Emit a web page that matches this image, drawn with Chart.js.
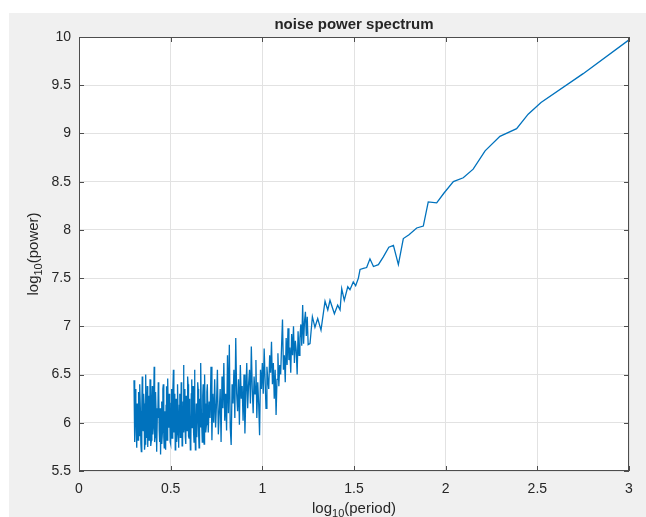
<!DOCTYPE html>
<html>
<head>
<meta charset="utf-8">
<script src="https://cdn.jsdelivr.net/npm/chart.js@4.4.0/dist/chart.umd.min.js"></script>
<style>
  html, body { margin: 0; padding: 0; background: #fff; }
  #frame { position: absolute; left: 9px; top: 13px; width: 637px; height: 504px; background: #f0f0f0; }
  #wrap { position: absolute; left: 0; top: 0; width: 646px; height: 517px; }
</style>
</head>
<body>
<div id="frame"></div>
<div id="wrap"><canvas id="spec" width="646" height="517"></canvas></div>
<script>
// short periods: dense, noisy part of the spectrum
var logPeriodLow = [
  0.3000,0.3025,0.3050,0.3075,0.3100,0.3125,0.3150,0.3175,0.3200,0.3225,
  0.3250,0.3275,0.3300,0.3325,0.3350,0.3375,0.3400,0.3425,0.3450,0.3475,
  0.3500,0.3525,0.3550,0.3575,0.3600,0.3625,0.3650,0.3675,0.3700,0.3725,
  0.3750,0.3775,0.3800,0.3825,0.3850,0.3875,0.3900,0.3925,0.3950,0.3975,
  0.4000,0.4025,0.4050,0.4075,0.4100,0.4125,0.4150,0.4175,0.4200,0.4225,
  0.4250,0.4275,0.4300,0.4325,0.4350,0.4375,0.4400,0.4425,0.4450,0.4475,
  0.4500,0.4525,0.4550,0.4575,0.4600,0.4625,0.4650,0.4675,0.4700,0.4725,
  0.4750,0.4775,0.4800,0.4825,0.4850,0.4875,0.4900,0.4925,0.4950,0.4975,
  0.5000,0.5025,0.5050,0.5075,0.5100,0.5125,0.5150,0.5175,0.5200,0.5225,
  0.5250,0.5275,0.5300,0.5325,0.5350,0.5375,0.5400,0.5425,0.5450,0.5475,
  0.5500,0.5525,0.5550,0.5575,0.5600,0.5625,0.5650,0.5675,0.5700,0.5725,
  0.5750,0.5775,0.5800,0.5825,0.5850,0.5875,0.5900,0.5925,0.5950,0.5975,
  0.6000,0.6025,0.6050,0.6075,0.6100,0.6125,0.6150,0.6175,0.6200,0.6225,
  0.6250,0.6275,0.6300,0.6325,0.6350,0.6375,0.6400,0.6425,0.6450,0.6475,
  0.6500,0.6525,0.6550,0.6575,0.6600,0.6625,0.6650,0.6675,0.6700,0.6725,
  0.6750,0.6775,0.6800,0.6825,0.6850,0.6875,0.6900,0.6925,0.6950,0.6975,
  0.700,0.705,0.710,0.715,0.720,0.725,0.730,0.735,0.740,0.745,
  0.750,0.755,0.760,0.765,0.770,0.775,0.780,0.785,0.790,0.795,
  0.800,0.805,0.810,0.815,0.820,0.825,0.830,0.835,0.840,0.845,
  0.850,0.855,0.860,0.865,0.870,0.875,0.880,0.885,0.890,0.895,
  0.900,0.905,0.910,0.915,0.920,0.925,0.930,0.935,0.940,0.945,
  0.950,0.955,0.960,0.965,0.970,0.975,0.980,0.985,0.990,0.995,
  1.000,1.005,1.010,1.015,1.020,1.025,1.030,1.035,1.040,1.045,
  1.050,1.055,1.060,1.065,1.070,1.075,1.080,1.085,1.090,1.095,
  1.100,1.105,1.110,1.115,1.120,1.125,1.130,1.135,1.140,1.145,
  1.150,1.155,1.160,1.165,1.170,1.175,1.180,1.185,1.190,1.195,
  1.200,1.205,1.210,1.215,1.220,1.225,1.230,1.235,1.240,1.245,1.250
];
var logPowerLow = [
  6.44,6.05,5.80,6.35,6.25,5.90,5.74,6.20,6.05,5.82,
  6.32,6.02,5.86,6.40,6.12,5.78,5.70,6.15,6.48,5.95,
  5.92,6.30,6.20,5.72,5.78,6.12,6.50,5.85,6.02,6.38,
  5.75,6.08,6.28,5.82,5.90,6.45,6.10,5.76,5.82,6.22,
  6.38,5.88,5.95,6.25,6.58,5.80,5.85,6.32,6.15,5.70,
  5.72,6.10,6.05,6.42,6.30,5.92,5.80,6.15,5.67,6.05,
  6.22,5.78,5.90,6.35,6.40,5.85,5.74,6.12,6.00,5.72,
  6.18,6.38,5.82,5.95,6.46,6.05,5.95,6.30,6.12,5.80,
  5.78,6.20,6.35,5.84,5.92,6.28,6.55,5.90,6.02,6.30,
  5.72,6.05,6.25,5.80,5.88,6.40,6.10,5.74,5.76,6.18,
  6.30,5.85,5.95,6.42,6.15,5.76,5.80,6.22,6.60,5.90,
  6.00,6.35,5.85,5.78,6.28,6.05,5.92,6.48,6.40,5.86,
  5.84,6.25,6.12,5.72,5.78,6.30,6.45,5.95,6.05,6.38,
  5.90,5.80,6.55,6.10,5.72,6.02,6.20,5.85,6.02,6.42,
  6.35,5.88,5.74,6.25,6.15,5.95,6.62,6.10,5.95,5.80,
  6.28,6.40,5.85,5.78,6.50,6.20,6.08,5.90,5.98,6.32,
  6.40,5.90,6.22,6.05,6.58,5.82,6.30,6.00,6.45,5.95,
  6.20,6.55,5.88,6.10,6.35,5.80,6.48,6.15,6.62,6.02,
  6.30,5.92,6.70,6.10,6.81,5.95,5.77,6.40,6.20,6.55,
  6.05,6.88,6.30,6.12,6.45,5.98,6.60,6.25,6.38,6.02,
  6.50,5.89,6.28,6.62,6.15,6.40,6.55,6.20,6.79,6.35,
  6.10,6.48,6.30,6.65,6.05,6.42,6.20,5.87,6.55,6.35,
  6.62,6.30,6.77,6.45,6.15,6.58,6.44,6.35,6.70,6.52,
  6.84,6.40,6.62,6.25,6.55,6.08,6.45,6.72,6.38,6.60,
  6.50,6.80,7.07,6.55,6.70,6.42,6.88,6.60,6.98,6.65,
  6.78,6.52,6.92,6.70,7.00,6.62,6.85,6.75,6.50,6.95,
  6.70,6.88,7.02,6.80,7.22,6.82,7.05,7.15,6.90,7.10,6.81
];

// long periods: sparse, rising part
var logPeriodHigh = [
  1.260,1.273,1.287,1.302,1.320,1.342,1.357,1.369,1.393,1.411,
  1.424,1.433,1.447,1.466,1.478,1.496,1.509,1.524,1.533,1.551,
  1.569,1.587,1.606,1.633,1.660,1.690,1.715,1.742,1.769,1.800,
  1.842,1.878,1.905,1.951,1.990,2.042,2.096,2.150,2.215,2.296,
  2.387,2.450,2.520,2.750,3.000
];
var logPowerHigh = [
  6.82,7.10,6.99,7.08,6.96,7.26,7.17,7.27,7.13,7.22,
  7.17,7.39,7.27,7.41,7.38,7.46,7.42,7.50,7.59,7.60,
  7.61,7.70,7.62,7.64,7.72,7.82,7.84,7.64,7.91,7.95,
  8.02,8.04,8.29,8.28,8.38,8.50,8.54,8.63,8.82,8.97,
  9.05,9.20,9.32,9.62,9.97
];

var xTicks = [0, 0.5, 1, 1.5, 2, 2.5, 3];
var yTicks = [5.5, 6, 6.5, 7, 7.5, 8, 8.5, 9, 9.5, 10];

var logPeriod = logPeriodLow.concat(logPeriodHigh);
var logPower = logPowerLow.concat(logPowerHigh);
var points = [];
for (var i = 0; i < logPeriod.length; i++) {
  points.push({ x: logPeriod[i], y: logPower[i] });
}

var FONT = "'Liberation Sans', Arial, Helvetica, sans-serif";
var INK = '#262626';

// text like log_10(...) with a lowered, smaller "10"
function subLabel(ctx, pre, sub, post, size) {
  ctx.font = size + 'px ' + FONT;
  var w1 = ctx.measureText(pre).width;
  var w3 = ctx.measureText(post).width;
  ctx.font = Math.round(size * 0.7) + 'px ' + FONT;
  var w2 = ctx.measureText(sub).width;
  var x = -(w1 + w2 + w3) / 2;
  ctx.textBaseline = 'middle';
  ctx.textAlign = 'left';
  ctx.font = size + 'px ' + FONT;
  ctx.fillText(pre, x, 0);
  ctx.font = Math.round(size * 0.7) + 'px ' + FONT;
  ctx.fillText(sub, x + w1, size * 0.35);
  ctx.font = size + 'px ' + FONT;
  ctx.fillText(post, x + w1 + w2, 0);
}

var axesFrame = {
  id: 'axesFrame',
  beforeDraw: function(chart) {
    var a = chart.chartArea, ctx = chart.ctx;
    ctx.save();
    ctx.fillStyle = '#fff';
    ctx.fillRect(a.left, a.top, a.right - a.left, a.bottom - a.top);
    ctx.restore();
  },
  afterDatasetsDraw: function(chart) {
    var a = chart.chartArea, ctx = chart.ctx;
    var sx = chart.scales.x, sy = chart.scales.y;
    ctx.save();
    ctx.strokeStyle = '#4d4d4d';
    ctx.lineWidth = 1;
    ctx.strokeRect(a.left + 0.5, a.top + 0.5, a.right - a.left - 1, a.bottom - a.top - 1);
    // inward tick marks on all four sides
    var len = 5;
    ctx.beginPath();
    xTicks.forEach(function(v) {
      var px = Math.round(sx.getPixelForValue(v)) + 0.5;
      ctx.moveTo(px, a.bottom); ctx.lineTo(px, a.bottom - len);
      ctx.moveTo(px, a.top); ctx.lineTo(px, a.top + len);
    });
    yTicks.forEach(function(v) {
      var py = Math.round(sy.getPixelForValue(v)) + 0.5;
      ctx.moveTo(a.left, py); ctx.lineTo(a.left + len, py);
      ctx.moveTo(a.right, py); ctx.lineTo(a.right - len, py);
    });
    ctx.stroke();

    // title and axis labels
    ctx.fillStyle = INK;
    ctx.font = 'bold 15px ' + FONT;
    ctx.textAlign = 'center';
    ctx.textBaseline = 'middle';
    ctx.fillText('noise power spectrum', (a.left + a.right) / 2, 25);

    ctx.save();
    ctx.translate((a.left + a.right) / 2, 509);
    subLabel(ctx, 'log', '10', '(period)', 15);
    ctx.restore();

    ctx.save();
    ctx.translate(34, (a.top + a.bottom) / 2);
    ctx.rotate(-Math.PI / 2);
    subLabel(ctx, 'log', '10', '(power)', 15);
    ctx.restore();
    ctx.restore();
  }
};

function plainTick(v) { return String(v); }

new Chart(document.getElementById('spec'), {
  type: 'line',
  data: {
    datasets: [{
      data: points,
      borderColor: '#0072BD',
      borderWidth: 1.3,
      pointRadius: 0,
      tension: 0,
      fill: false
    }]
  },
  options: {
    responsive: false,
    animation: false,
    layout: { padding: { left: 0, right: 17, top: 37, bottom: 0 } },
    plugins: {
      legend: { display: false },
      tooltip: { enabled: false },
      title: { display: false }
    },
    scales: {
      x: {
        type: 'linear',
        min: 0,
        max: 3,
        afterBuildTicks: function(s) { s.ticks = xTicks.map(function(v) { return { value: v }; }); },
        afterFit: function(s) { s.height = 46; },
        ticks: { color: INK, padding: 10, maxRotation: 0, callback: plainTick, font: { family: FONT, size: 14 } },
        grid: { color: '#e2e2e2', drawTicks: false },
        border: { display: false }
      },
      y: {
        type: 'linear',
        min: 5.5,
        max: 10,
        afterBuildTicks: function(s) { s.ticks = yTicks.map(function(v) { return { value: v }; }); },
        afterFit: function(s) { s.width = 79; },
        ticks: { color: INK, padding: 8, callback: plainTick, font: { family: FONT, size: 14 } },
        grid: { color: '#e2e2e2', drawTicks: false },
        border: { display: false }
      }
    }
  },
  plugins: [axesFrame]
});
</script>
</body>
</html>
